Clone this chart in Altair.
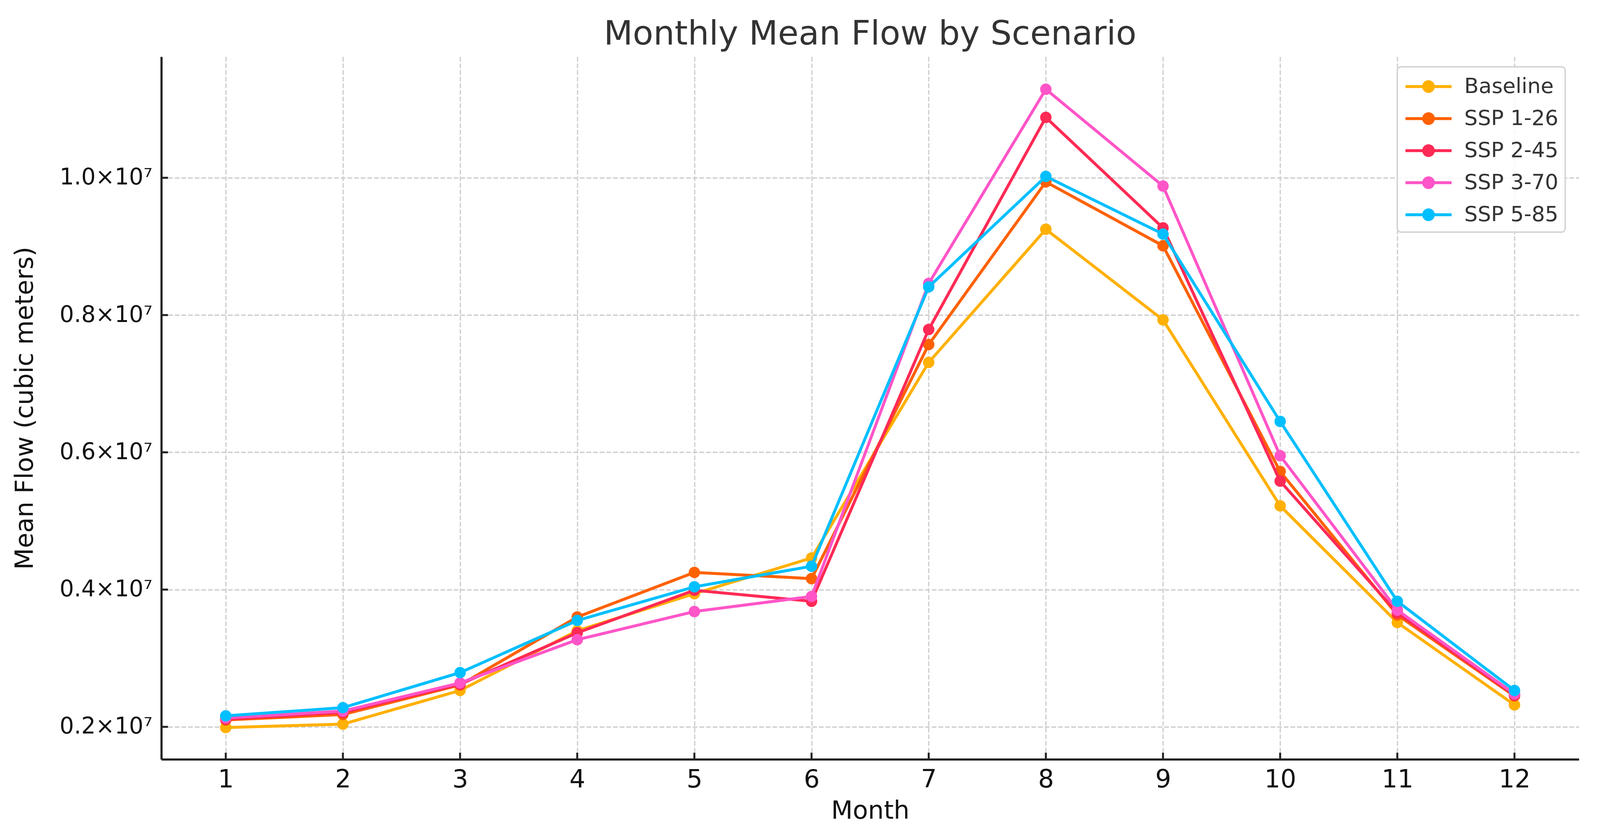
import altair as alt
import pandas as pd

months = list(range(1, 13))
scenarios = ["Baseline", "SSP 1-26", "SSP 2-45", "SSP 3-70", "SSP 5-85"]
colors = ["#FFB000", "#FE6100", "#FF2A55", "#FF55C8", "#00BFFF"]

baseline = [1.99e6, 2.04e6, 2.53e6, 3.40e6, 3.94e6, 4.46e6, 7.31e6, 9.25e6, 7.93e6, 5.22e6, 3.52e6, 2.32e6]
ssp126 = [2.10e6, 2.18e6, 2.61e6, 3.60e6, 4.25e6, 4.16e6, 7.57e6, 9.94e6, 9.01e6, 5.72e6, 3.63e6, 2.45e6]
ssp245 = [2.11e6, 2.21e6, 2.62e6, 3.37e6, 3.99e6, 3.83e6, 7.79e6, 10.88e6, 9.27e6, 5.58e6, 3.66e6, 2.46e6]
ssp370 = [2.13e6, 2.23e6, 2.64e6, 3.27e6, 3.68e6, 3.90e6, 8.46e6, 11.29e6, 9.88e6, 5.95e6, 3.70e6, 2.48e6]
ssp585 = [2.16e6, 2.28e6, 2.79e6, 3.55e6, 4.04e6, 4.34e6, 8.41e6, 10.02e6, 9.18e6, 6.45e6, 3.83e6, 2.53e6]

y_ticks = [2e6, 4e6, 6e6, 8e6, 10e6]

series = [baseline, ssp126, ssp245, ssp370, ssp585]
rows = []
for s, vals in zip(scenarios, series):
    for m, v in zip(months, vals):
        rows.append({"scenario": s, "month": m, "flow": v})
df = pd.DataFrame(rows)

W, H = 3629, 1798
FONT = "DejaVu Sans"

xscale = alt.Scale(domain=[0.45, 12.55], nice=False, zero=False)
yscale = alt.Scale(domain=[1.527e6, 11.765e6], nice=False, zero=False)
cscale = alt.Scale(domain=scenarios, range=colors)

legend_path = "M-2,0L2,0M-0.42,0A0.42,0.42,0,1,0,0.42,0A0.42,0.42,0,1,0,-0.42,0Z"
legend = alt.Legend(
    orient="none", legendX=3164, legendY=26, title=None,
    symbolType=legend_path, symbolSize=3481, symbolStrokeWidth=7.5, symbolOffset=29.5,
    labelFontSize=54, labelFont=FONT, labelColor="#333333", labelOffset=58, labelLimit=1000,
    padding=17, rowPadding=21, strokeColor="#d6d6d6", fillColor="rgba(255,255,255,0.85)",
    cornerRadius=10, symbolOpacity=1,
)

xaxis = alt.Axis(values=months, title="Month", format="d", ticks=False,
                 labelPadding=20, labelFontSize=64, titleFontSize=64, titlePadding=16,
                 grid=True, gridDash=[12, 5], gridColor="#cfcfcf", gridWidth=3.3)
yaxis = alt.Axis(values=y_ticks, title="Mean Flow (cubic meters)", ticks=False,
                 labelExpr="format(datum.value/1e7,'.1f') + '×10⁷'", labelLimit=1000,
                 labelPadding=23, labelFontSize=58, titleFontSize=64,
                 titleX=-317, titleY=H / 2,
                 grid=True, gridDash=[12, 5], gridColor="#cfcfcf", gridWidth=3.3)

X = alt.X("month:Q", scale=xscale, axis=xaxis)
Y = alt.Y("flow:Q", scale=yscale, axis=yaxis)

base = alt.Chart(df)
layers = []
for s in scenarios:
    sub = base.transform_filter(alt.datum.scenario == s)
    layers.append(sub.mark_line(strokeWidth=7.5).encode(
        x=X, y=Y, stroke=alt.Stroke("scenario:N", scale=cscale, legend=legend)))
    layers.append(sub.mark_point(filled=True, size=855, opacity=1).encode(
        x=X, y=Y, fill=alt.Fill("scenario:N", scale=cscale, legend=legend)))

xt = alt.Chart(pd.DataFrame({"month": months})).mark_rule(color="#222222", strokeWidth=5).encode(
    x=X, y=alt.value(H), y2=alt.value(H - 17))
yt = alt.Chart(pd.DataFrame({"flow": y_ticks})).mark_rule(color="#222222", strokeWidth=5).encode(
    y=Y, x=alt.value(0), x2=alt.value(17))

chart = alt.layer(*layers, xt, yt).properties(
    width=W, height=H,
    title=alt.Title("Monthly Mean Flow by Scenario", fontSize=86, font=FONT, color="#333333",
                    fontWeight="normal", offset=13),
    padding={"left": 24, "top": 37, "right": 40, "bottom": 20},
).configure_view(stroke=None).configure_axis(
    domainColor="#222222", domainWidth=5.5, labelFont=FONT, titleFont=FONT,
    labelColor="#111111", titleColor="#111111", titleFontWeight="normal",
).configure_legend(strokeWidth=4)

chart.save("out.html", embed_options={"renderer": "svg", "actions": False})
